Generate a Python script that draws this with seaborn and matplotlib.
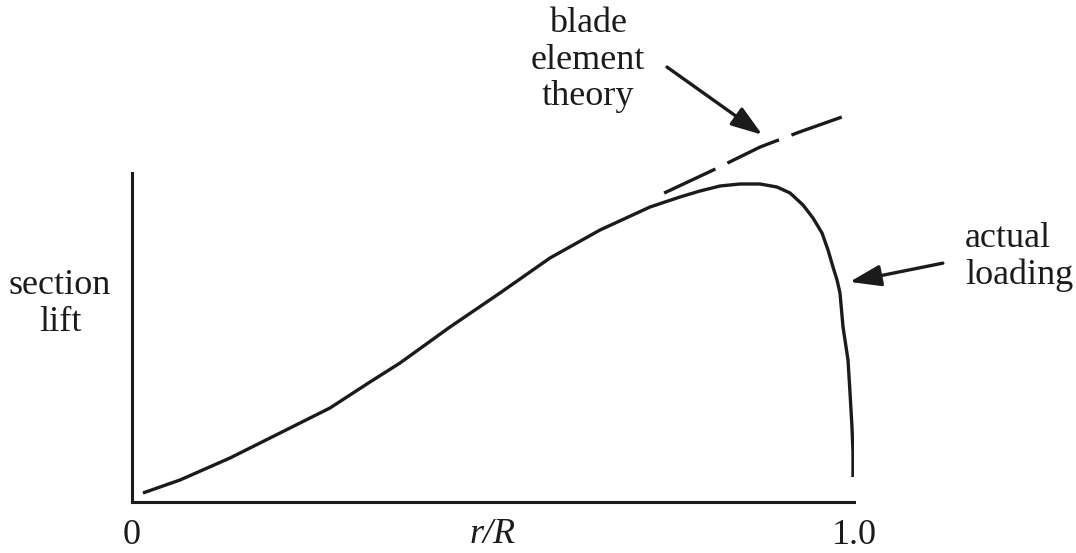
import numpy as np
import matplotlib
matplotlib.use("Agg")
import matplotlib.pyplot as plt
import pandas as pd
import seaborn as sns

# actual loading curve (r/R, section lift)
r_actual = [0.0152, 0.0665, 0.1357, 0.2050, 0.2742, 0.3296, 0.3712, 0.4404, 0.5097,
            0.5789, 0.6482, 0.7175, 0.7590, 0.7867, 0.8144, 0.8421, 0.8698, 0.8934,
            0.9114, 0.9294, 0.9432, 0.9557, 0.9640, 0.9709, 0.9765, 0.9806, 0.9848,
            0.9917, 0.9945, 0.9972, 0.9986, 0.9986]
lift_actual = [0.0274, 0.0669, 0.1337, 0.2097, 0.2857, 0.3647, 0.4225, 0.5319, 0.6353,
               0.7416, 0.8267, 0.8967, 0.9271, 0.9453, 0.9605, 0.9666, 0.9666, 0.9574,
               0.9392, 0.9027, 0.8632, 0.8176, 0.7660, 0.7143, 0.6748, 0.6353, 0.5319,
               0.4316, 0.3313, 0.2280, 0.1520, 0.0760]

# blade element theory (dashed)
r_bet = [0.737, 0.805, 0.870, 0.925, 0.983]
lift_bet = [0.939, 1.009, 1.079, 1.125, 1.170]

xtick_vals = [0, 1]
xtick_labels = ["0", "1.0"]

ink = "#1c1a1b"
fs = 26

sns.set_style("white")
plt.rcParams["font.family"] = ["Liberation Serif", "DejaVu Serif"]

fig = plt.figure(figsize=(10.76, 5.53), dpi=100)
ax = fig.add_axes([132 / 1076, 51 / 553, 722 / 1076, 502 / 553])

df_a = pd.DataFrame({"r": r_actual, "lift": lift_actual})
df_b = pd.DataFrame({"r": r_bet, "lift": lift_bet})
sns.lineplot(data=df_a, x="r", y="lift", sort=False, estimator=None, color=ink, lw=2.4, ax=ax)
sns.lineplot(data=df_b, x="r", y="lift", sort=False, estimator=None, color=ink, lw=2.4,
             ax=ax, clip_on=False)
ax.lines[-1].set_dashes([17, 4])
for ln in ax.lines:
    ln.set_solid_capstyle("butt")
    ln.set_solid_joinstyle("round")

ax.set_xlim(0, 1)
ax.set_ylim(0, 502 / 329)
for s in ["top", "right"]:
    ax.spines[s].set_visible(False)
for s in ["left", "bottom"]:
    ax.spines[s].set_linewidth(2.2)
    ax.spines[s].set_color(ink)
ax.spines["left"].set_bounds(0, 1)

ax.set_yticks([])
ax.set_xticks(xtick_vals)
ax.set_xticklabels(xtick_labels, fontsize=fs, color=ink)
ax.tick_params(axis="x", direction="in", length=6, width=2.2, color=ink, pad=12)
ax.set_xlabel("")
ax.set_ylabel("")

ax.text(0.499, -0.100, "r/R", fontsize=fs, style="italic", ha="center", va="center",
        color=ink)
ax.text(-0.0997, 0.602, "section\nlift", fontsize=fs, ha="center", va="center",
        color=ink, linespacing=1.14)
ax.text(0.632, 1.343, "blade\nelement\ntheory", fontsize=fs, ha="center", va="center",
        color=ink, linespacing=1.14)
ax.text(1.154, 0.745, "actual\nloading", fontsize=fs, ha="left", va="center",
        color=ink, linespacing=1.14)

head = "-|>,head_length=1.9,head_width=0.65"
ax.annotate("", xy=(0.873, 1.116), xytext=(0.741, 1.322), annotation_clip=False,
            arrowprops=dict(arrowstyle=head, lw=2.4, color=ink, shrinkA=0, shrinkB=0))
ax.annotate("", xy=(0.994, 0.669), xytext=(1.123, 0.726), annotation_clip=False,
            arrowprops=dict(arrowstyle=head, lw=2.4, color=ink, shrinkA=0, shrinkB=0))

fig.savefig("out.png", dpi=100)
